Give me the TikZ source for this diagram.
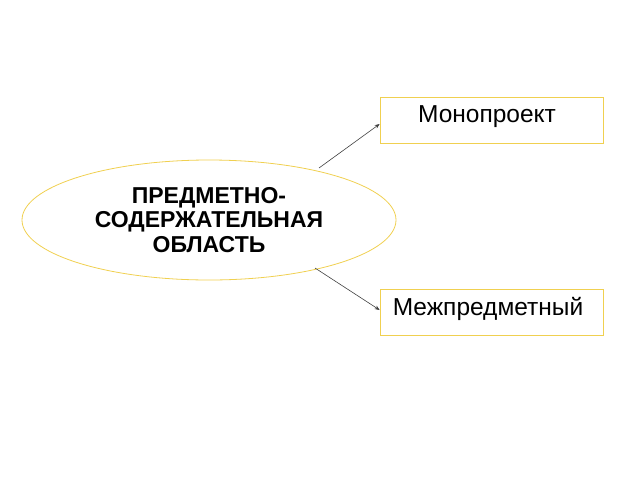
\documentclass[tikz,border=0pt]{standalone}
\usepackage{fontspec}
\setmainfont{Liberation Sans}
\usetikzlibrary{shapes.geometric,arrows.meta}
\definecolor{gold}{RGB}{240,208,80}
\begin{document}
\begin{tikzpicture}[x=1pt,y=-1pt,
  oval/.style={draw=gold,line width=0.8pt,ellipse,minimum width=374pt,minimum height=120pt,inner sep=0pt},
  box/.style={draw=gold,line width=0.7pt,minimum width=223pt,minimum height=46pt,inner sep=0pt},
  conn/.style={draw=black!75,line width=0.6pt,-{Stealth[length=5pt,width=4pt]}}]
\useasboundingbox (0,0) rectangle (640,480);
\node[oval] (area) at (209,220) {};
\node[font=\fontsize{23}{24.5}\selectfont\bfseries,align=center] (areatext) at (209,220) {ПРЕДМЕТНО-\\СОДЕРЖАТЕЛЬНАЯ\\ОБЛАСТЬ};
\node[box] (mono) at (491.5,120.5) {};
\node[font=\fontsize{24.5}{26}\selectfont] (monotext) at (487,117) {Монопроект};
\node[box] (mezh) at (491.5,312.5) {};
\node[font=\fontsize{24.5}{26}\selectfont] (mezhtext) at (488,309) {Межпредметный};
\coordinate (s1) at (319,168);
\coordinate (s2) at (315,268);
\draw[conn] (s1) -- (mono.west |- 0,124);
\draw[conn] (s2) -- (mezh.west |- 0,310);
\end{tikzpicture}
\end{document}
